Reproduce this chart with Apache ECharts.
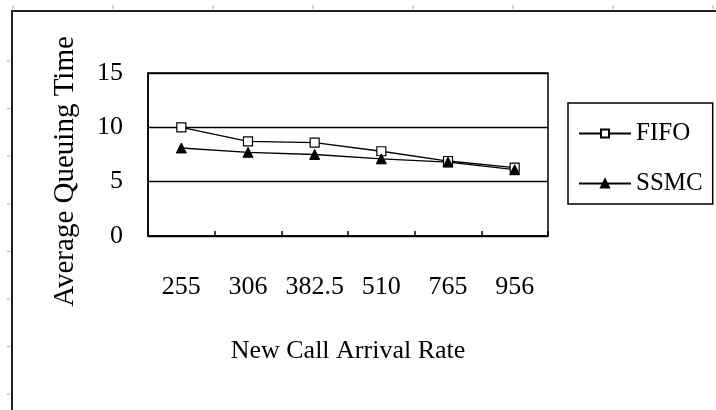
<!DOCTYPE html>
<html>
<head>
<meta charset="utf-8">
<script src="https://cdn.jsdelivr.net/npm/echarts@6/dist/echarts.min.js"></script>
<style>html,body{margin:0;padding:0;background:#fff;}#c{width:716px;height:410px;}</style>
</head>
<body>
<div id="c"></div>
<script>
var categories = ['255', '306', '382.5', '510', '765', '956'];
var fifo = [10.0, 8.7, 8.6, 7.8, 6.9, 6.3];
var ssmc = [8.1, 7.7, 7.5, 7.1, 6.8, 6.1];
var seriesNames = ['FIFO', 'SSMC'];
var yTitle = 'Average Queuing Time';
var xTitle = 'New Call Arrival Rate';

var FONT = 'Liberation Serif';
var chart = echarts.init(document.getElementById('c'), null, {renderer: 'canvas'});

var rulerTop = [];
for (var i = 0; i < 8; i++) {
  rulerTop.push({type: 'line', shape: {x1: 13 + i * 100, y1: 5, x2: 13 + i * 100, y2: 9}, style: {stroke: '#aaa', lineWidth: 1}, silent: true});
}
for (var j = 0; j < 8; j++) {
  var yy = 61 + j * 47.6;
  rulerTop.push({type: 'line', shape: {x1: 7, y1: yy, x2: 10, y2: yy}, style: {stroke: '#aaa', lineWidth: 1}, silent: true});
}

chart.setOption({
  animation: false,
  backgroundColor: '#fff',
  textStyle: {fontFamily: FONT, color: '#000'},
  grid: {left: 148, right: 168, top: 73, bottom: 174, show: true, borderColor: '#000', borderWidth: 1.5, backgroundColor: 'transparent'},
  legend: {
    orient: 'vertical',
    left: 568, top: 103,
    width: 142,
    padding: [18, 10, 8, 10],
    borderColor: '#000', borderWidth: 1.5,
    itemWidth: 52, itemHeight: 10, itemGap: 25,
    textStyle: {fontFamily: FONT, fontSize: 25, color: '#000'},
    data: seriesNames
  },
  xAxis: {
    type: 'category',
    data: categories,
    boundaryGap: true,
    axisLine: {lineStyle: {color: '#000', width: 1.5}},
    axisTick: {show: true, inside: true, length: 5, interval: 0, lineStyle: {color: '#000', width: 1.5}},
    axisLabel: {fontFamily: FONT, fontSize: 26, color: '#000', margin: 38, interval: 0},
    name: xTitle, nameLocation: 'middle', nameGap: 102,
    nameTextStyle: {fontFamily: FONT, fontSize: 26, color: '#000'}
  },
  yAxis: {
    type: 'value', min: 0, max: 15, interval: 5,
    axisLine: {show: true, lineStyle: {color: '#000', width: 1.5}},
    axisTick: {show: false},
    splitLine: {show: true, lineStyle: {color: '#000', width: 1.3}},
    axisLabel: {fontFamily: FONT, fontSize: 26, color: '#000', margin: 25},
    name: yTitle, nameLocation: 'middle', nameGap: 68, nameRotate: 90,
    nameTextStyle: {fontFamily: FONT, fontSize: 29, color: '#000', padding: [0, 34, 0, 0]}
  },
  series: [
    {
      name: seriesNames[0], type: 'line', data: fifo,
      symbol: 'rect', symbolSize: 9,
      itemStyle: {color: '#fff', borderColor: '#000', borderWidth: 1.2},
      lineStyle: {color: '#000', width: 1.3}
    },
    {
      name: seriesNames[1], type: 'line', data: ssmc,
      symbol: 'triangle', symbolSize: 10,
      itemStyle: {color: '#000', borderColor: '#000', borderWidth: 1},
      lineStyle: {color: '#000', width: 1.3}
    }
  ],
  graphic: [
    {type: 'polyline', shape: {points: [[12, 410], [12, 11], [716, 11]]}, style: {stroke: '#222', lineWidth: 2, fill: null}, silent: true}
  ].concat(rulerTop)
});
</script>
</body>
</html>
